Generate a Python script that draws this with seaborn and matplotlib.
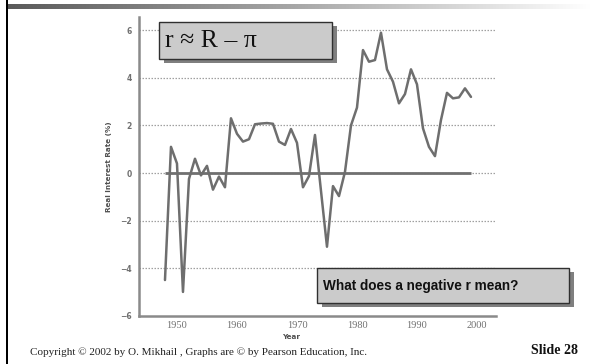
import numpy as np
import pandas as pd
import matplotlib
matplotlib.use("Agg")
import matplotlib.pyplot as plt
import seaborn as sns
from matplotlib.patches import Rectangle

# Real interest rate (%) by year
years = list(range(1948, 2000))
real_rate = [-4.5, 1.1, 0.4, -5.0, -0.25, 0.6, -0.1, 0.3, -0.7, -0.15,
             -0.6, 2.3, 1.65, 1.32, 1.42, 2.05, 2.08, 2.1, 2.07, 1.32,
             1.18, 1.85, 1.27, -0.6, -0.13, 1.6, -0.75, -3.1, -0.55, -0.97,
             0.05, 2.0, 2.75, 5.17, 4.68, 4.75, 5.9, 4.36, 3.84, 2.93,
             3.32, 4.36, 3.73, 1.88, 1.1, 0.71, 2.23, 3.37, 3.14, 3.18,
             3.56, 3.2]
y_ticks = [-6, -4, -2, 0, 2, 4, 6]
x_ticks = [1950, 1960, 1970, 1980, 1990, 2000]

df = pd.DataFrame({"Year": years, "Real Interest Rate (%)": real_rate})

sns.set_theme(style="white")
plt.rcParams["font.family"] = ["DejaVu Sans"]

W, H = 591, 364
fig = plt.figure(figsize=(W / 100, H / 100), dpi=100)
fig.patch.set_facecolor("white")

def fx(px):
    return px / W

def fy(py):
    return 1 - py / H

ax = fig.add_axes([fx(139), fy(315.7), fx(496 - 139), (315.7 - 17) / H])
ax.set_facecolor("white")

# dotted gridlines at each labelled value
for v in y_ticks[1:]:
    ax.axhline(v, color="#a0a0a0", lw=0.9, ls=(0, (1.2, 1.2)), zorder=1)

# solid zero reference across the data span
ax.plot([years[0], years[-1]], [0, 0], color="#707070", lw=2.0, zorder=2,
        solid_capstyle="butt")

sns.lineplot(data=df, x="Year", y="Real Interest Rate (%)", ax=ax,
             color="#6e6e6e", lw=1.8, zorder=3)

ax.set_xlim(1943.67, 2003.17)
ax.set_ylim(-6, 6.56)
ax.set_yticks(y_ticks)
ax.set_yticklabels([str(t).replace("-", "\u2212") for t in y_ticks],
                   fontsize=5.5, fontweight="bold", color="#707070")
ax.set_xticks(x_ticks)
ax.set_xticklabels([str(t) for t in x_ticks], fontsize=7.5,
                   family="Liberation Serif", color="#707070")
ax.tick_params(axis="x", direction="in", length=5, width=1, color="#808080",
               pad=4)
ax.tick_params(axis="y", length=0, pad=5)
ax.set_xlabel("")
ax.set_ylabel("Real Interest Rate (%)", fontsize=5.2, fontweight="bold",
              color="#505050", labelpad=6)
for side in ["top", "right"]:
    ax.spines[side].set_visible(False)
for side in ["left", "bottom"]:
    ax.spines[side].set_color("#8a8a8a")
    ax.spines[side].set_linewidth(1.8)

fig.text(fx(291), fy(337), "Year", fontsize=5.2, fontweight="bold",
         color="#505050", ha="center", va="center")

# slide decoration: gradient band and left rule
grad = np.linspace(0, 1, 256)[None, :]
band = fig.add_axes([fx(6), fy(9), 1 - fx(6), 5 / H])
band.imshow(grad, aspect="auto", cmap=matplotlib.colors.LinearSegmentedColormap.from_list(
    "band", ["#5a5a5a", "#a8a8a8", "#ffffff"]))
band.axis("off")
fig.patches.append(Rectangle((fx(5.5), 0), 2 / W, 1, transform=fig.transFigure,
                             facecolor="black", edgecolor="none", zorder=10))


def callout(x0, y0, x1, y1, dx, dy):
    fig.patches.append(Rectangle((fx(x0 + dx), fy(y1 + dy)), fx(x1 - x0),
                                 (y1 - y0) / H, transform=fig.transFigure,
                                 facecolor="#7f7f7f", edgecolor="none", zorder=11))
    fig.patches.append(Rectangle((fx(x0), fy(y1)), fx(x1 - x0), (y1 - y0) / H,
                                 transform=fig.transFigure, facecolor="#cbcbcb",
                                 edgecolor="#303030", lw=1.0, zorder=12))


callout(159, 22, 332, 59, 5, 4)
fig.text(fx(165), fy(41), "r \u2248 R \u2013 \u03c0", fontsize=18.5,
         family="Liberation Serif", color="#111111", ha="left", va="center",
         zorder=13)

callout(317, 268, 569, 303, 5, 4)
fig.text(fx(323), fy(286), "What does a negative r mean?", fontsize=9.8,
         family="Liberation Sans", fontweight="bold", color="#111111",
         ha="left", va="center", zorder=13)

fig.text(fx(30), fy(352), "Copyright \u00a9 2002 by O. Mikhail , Graphs are \u00a9 by Pearson Education, Inc.",
         fontsize=8.0, family="Liberation Serif", color="#222222",
         ha="left", va="center")
fig.text(fx(578), fy(350), "Slide 28", fontsize=10, family="Liberation Serif",
         fontweight="bold", color="#111111", ha="right", va="center")

fig.savefig("out.png", dpi=100)
